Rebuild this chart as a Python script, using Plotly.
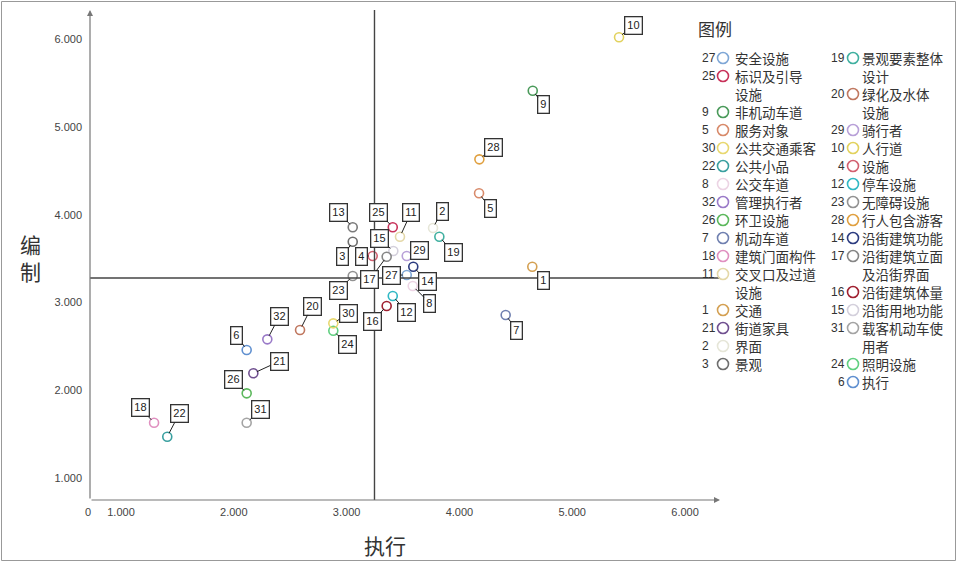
import plotly.graph_objects as go

# ---------------- data ----------------
point_ids = [1, 2, 3, 4, 5, 6, 7, 8, 9, 10, 11, 12, 13, 14, 15, 16,
             17, 18, 19, 20, 21, 22, 23, 24, 25, 26, 27, 28, 29, 30, 31, 32]
exec_vals = [4.646, 3.766, 3.054, 3.231, 4.174, 2.114, 4.410, 3.586, 4.650, 5.415, 3.473, 3.409,
             3.054, 3.591, 3.414, 3.355, 3.355, 1.293, 3.822, 2.587, 2.173, 1.410, 3.054, 2.882,
             3.409, 2.114, 3.533, 4.177, 3.533, 2.882, 2.114, 2.297]
plan_vals = [3.409, 3.850, 3.694, 3.531, 4.245, 2.460, 2.859, 3.189, 5.413, 6.022, 3.751, 3.075,
             3.858, 3.409, 3.588, 2.961, 3.523, 1.632, 3.751, 2.688, 2.195, 1.473, 3.303, 2.680,
             3.858, 1.967, 3.314, 4.632, 3.531, 2.764, 1.632, 2.582]
point_colors = ["#d4a052", "#e6e6d8", "#6e6e6e", "#d26070", "#d88a6a", "#6090d0", "#7080b0", "#ecd4e4",
                "#4a9a5a", "#e2d25e", "#e4d8a8", "#30b8c4", "#7a7a7a", "#2c3c80", "#d4d0dc", "#a02030",
                "#868686", "#e090c0", "#40b0a0", "#c07860", "#705090", "#3aa0a0", "#929292", "#60d080",
                "#c8325a", "#5cb85c", "#7fa7d6", "#e0a040", "#b8a0d8", "#e8d870", "#a4a4a4", "#9a7ac8"]

mean_exec = 3.247
mean_plan = 3.28

x_ticks = [1, 2, 3, 4, 5, 6]
y_ticks = [1, 2, 3, 4, 5, 6]

legend_col1 = [(27, "安全设施"), (25, "标识及引导|设施"), (9, "非机动车道"), (5, "服务对象"),
               (30, "公共交通乘客"), (22, "公共小品"), (8, "公交车道"), (32, "管理执行者"),
               (26, "环卫设施"), (7, "机动车道"), (18, "建筑门面构件"), (11, "交叉口及过道|设施"),
               (1, "交通"), (21, "街道家具"), (2, "界面"), (3, "景观")]
legend_col2 = [(19, "景观要素整体|设计"), (20, "绿化及水体|设施"), (29, "骑行者"), (10, "人行道"),
               (4, "设施"), (12, "停车设施"), (23, "无障碍设施"), (28, "行人包含游客"),
               (14, "沿街建筑功能"), (17, "沿街建筑立面|及沿街界面"), (16, "沿街建筑体量"),
               (15, "沿街用地功能"), (31, "载客机动车使|用者"), (24, "照明设施"), (6, "执行")]

# label box offsets (pixels) relative to each point
label_offsets = {1: (11, 14), 2: (9, -17), 3: (-10, 15), 4: (-11, 0), 5: (11, 15), 6: (-10, -15),
                 7: (11, 15), 8: (17, 17), 9: (11, 14), 10: (14, -12), 11: (11, -24), 12: (14, 16),
                 13: (-14, -15), 14: (14, 15), 15: (-14, -13), 16: (-14, 15), 17: (-17, 23),
                 18: (-14, -15), 19: (14, 16), 20: (12, -24), 21: (26, -12), 22: (12, -23),
                 23: (-14, 14), 24: (14, 14), 25: (-14, -15), 26: (-13, -14), 27: (-15, 0),
                 28: (14, -12), 29: (13, -6), 30: (15, -10), 31: (14, -13), 32: (12, -23)}

# ---------------- layout constants ----------------
W, H = 957, 562
L, R, T, B = 90, 237, 10, 62
PW, PH = W - L - R, H - T - B
NUM_FONT = "Liberation Sans, Arial, sans-serif"
CJK_FONT = "Noto Sans CJK SC, sans-serif"

def px_to_paper(px, py):
    return (px - L) / PW, (H - B - py) / PH

fig = go.Figure()
fig.add_trace(go.Scatter(
    x=exec_vals, y=plan_vals, mode="markers",
    marker=dict(symbol="circle-open", size=9, color=point_colors, line=dict(width=1.6)),
    text=[str(i) for i in point_ids], hoverinfo="text+x+y", showlegend=False))

annotations = []
shapes = []

# point labels
color_by_id = dict(zip(point_ids, point_colors))
for pid, xv, yv in zip(point_ids, exec_vals, plan_vals):
    dx, dy = label_offsets[pid]
    annotations.append(dict(
        x=xv, y=yv, xref="x", yref="y", text=str(pid), showarrow=True,
        ax=dx, ay=dy, arrowhead=0, arrowwidth=1, arrowcolor="#222", standoff=4,
        font=dict(family=NUM_FONT, size=11, color="#222"),
        bordercolor="#333", borderwidth=1.3, borderpad=2, bgcolor="white"))

# crosshair lines
shapes.append(dict(type="line", xref="x", yref="paper", x0=mean_exec, x1=mean_exec, y0=0, y1=1,
                   line=dict(color="#444", width=1.4)))
shapes.append(dict(type="line", xref="paper", yref="y", x0=0, x1=1, y0=mean_plan, y1=mean_plan,
                   line=dict(color="#444", width=1.4)))

# axis lines with arrows
annotations.append(dict(x=0, y=1, xref="paper", yref="paper", ax=0, ay=PH, showarrow=True,
                        arrowhead=2, arrowsize=1, arrowwidth=1.2, arrowcolor="#777", text=""))
annotations.append(dict(x=1, y=0, xref="paper", yref="paper", ax=-PW, ay=0, showarrow=True,
                        arrowhead=2, arrowsize=1, arrowwidth=1.2, arrowcolor="#777", text=""))

def text_at(px, py, text, size, family, color="#333", xanchor="center"):
    tx, ty = px_to_paper(px, py)
    annotations.append(dict(x=tx, y=ty, xref="paper", yref="paper", text=text, showarrow=False,
                            xanchor=xanchor, yanchor="middle", borderpad=0, align="left",
                            font=dict(family=family, size=size, color=color)))

# corner zero label
text_at(88, 512, "0", 11, NUM_FONT, "#444")

# axis titles
text_at(385, 545, "执行", 21, CJK_FONT)
text_at(30, 257, "编<br>制", 21, CJK_FONT)

# legend
text_at(697, 28, "图例", 17, CJK_FONT, xanchor="left")

def draw_legend_col(entries, num_x, num_anchor, circ_x, text_x, y_start=58, step=18):
    y = y_start
    for pid, name in entries:
        text_at(num_x, y, str(pid), 12, NUM_FONT, xanchor=num_anchor)
        cx, cy = px_to_paper(circ_x, y)
        shapes.append(dict(type="circle", xref="paper", yref="paper", xsizemode="pixel",
                           ysizemode="pixel", xanchor=cx, yanchor=cy, x0=-5.5, x1=5.5, y0=-5.5, y1=5.5,
                           line=dict(color=color_by_id[pid], width=1.6)))
        lines = name.split("|")
        n = len(lines)
        text_at(text_x, y + (n - 1) * step / 2, "<br>".join(lines), 13.5, CJK_FONT, xanchor="left")
        y += step * n

draw_legend_col(legend_col1, 701, "left", 723, 734)
draw_legend_col(legend_col2, 846, "right", 853, 861)

# outer border
bx0, by0 = px_to_paper(1.5, 560.5)
bx1, by1 = px_to_paper(955.5, 1.5)
shapes.append(dict(type="rect", xref="paper", yref="paper", x0=bx0, y0=by0, x1=bx1, y1=by1,
                   line=dict(color="#999", width=1)))

fig.update_layout(
    width=W, height=H, margin=dict(l=L, r=R, t=T, b=B),
    paper_bgcolor="white", plot_bgcolor="white",
    xaxis=dict(range=[0.725, 6.31], tickvals=x_ticks, tickformat=".3f", showgrid=False,
               zeroline=False, showline=False, ticks="", ticklabelstandoff=4,
               tickfont=dict(family=NUM_FONT, size=11, color="#444")),
    yaxis=dict(range=[0.752, 6.333], tickvals=y_ticks, tickformat=".3f", showgrid=False,
               zeroline=False, showline=False, ticks="", ticklabelstandoff=7,
               tickfont=dict(family=NUM_FONT, size=11, color="#444")),
    annotations=annotations, shapes=shapes, showlegend=False)

fig.write_html("out.html", config={"displayModeBar": False},
               post_script="document.body.style.margin='0';document.body.style.overflow='hidden';")
